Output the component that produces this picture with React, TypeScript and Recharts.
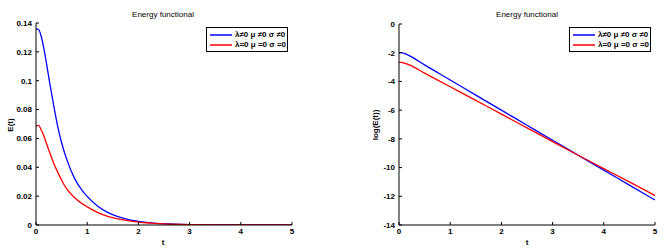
import React from 'react';
import { LineChart, Line, XAxis, YAxis } from 'recharts';

// Left panel: energy E(t)
const tLeft = [0, 0.05, 0.1, 0.15, 0.2, 0.27, 0.35, 0.42, 0.5, 0.6, 0.75, 0.9, 1.0, 1.2, 1.4, 1.6, 1.85, 2.0, 2.25, 2.5, 3.0, 3.5, 4.0, 4.5, 5.0];
const blueE = [0.136, 0.1355, 0.131, 0.123, 0.113, 0.098, 0.082, 0.069, 0.057, 0.0455, 0.0325, 0.024, 0.0198, 0.0132, 0.0088, 0.0058, 0.0034, 0.0025, 0.0015, 0.0009, 0.0003, 0.00012, 0.00004, 0.00002, 0.00001];
const redE = [0.0685, 0.069, 0.066, 0.062, 0.057, 0.05, 0.0425, 0.037, 0.031, 0.025, 0.019, 0.0148, 0.0126, 0.0088, 0.006, 0.0042, 0.0027, 0.002, 0.0013, 0.0008, 0.0003, 0.00012, 0.00005, 0.00002, 0.00001];

// Right panel: log(E(t))
const tRight = [0, 0.05, 0.1, 0.2, 0.5, 1.0, 1.5, 2.0, 2.5, 3.0, 3.5, 4.0, 4.5, 5.0];
const blueLog = [-1.99, -2.0, -2.05, -2.2, -2.85, -3.9, -4.95, -6.0, -7.05, -8.1, -9.14, -10.18, -11.22, -12.26];
const redLog = [-2.68, -2.67, -2.72, -2.85, -3.42, -4.37, -5.32, -6.28, -7.23, -8.19, -9.14, -10.07, -11.0, -11.95];

const xTicks = [0, 1, 2, 3, 4, 5];
const leftYTicks = [0, 0.02, 0.04, 0.06, 0.08, 0.1, 0.12, 0.14];
const rightYTicks = [-14, -12, -10, -8, -6, -4, -2, 0];

const seriesNames = ['λ≠0 μ ≠0 σ ≠0', 'λ=0 μ =0 σ =0'];
const seriesColors = ['#0000ff', '#ff0000'];
const titleText = 'Energy functional';

const leftData = tLeft.map((t, i) => ({ t, a: blueE[i], b: redE[i] }));
const rightData = tRight.map((t, i) => ({ t, a: blueLog[i], b: redLog[i] }));

const FONT = '"Liberation Sans", Arial, sans-serif';
const tickStyle = { fontSize: 8, fontWeight: 700, fill: '#000', fontFamily: FONT };

const LegendBox = ({ left, top }: { left: number; top: number }) => (
  <div
    style={{
      position: 'absolute',
      left,
      top,
      border: '1px solid #000',
      background: '#fff',
      width: 82,
      height: 25,
      boxSizing: 'border-box',
      padding: '2px 0 0 3px',
      fontFamily: FONT,
      fontSize: 8,
      fontWeight: 700,
      lineHeight: '10px',
    }}
  >
    {seriesNames.map((name, i) => (
      <div key={i} style={{ display: 'flex', alignItems: 'center', height: 10, whiteSpace: 'nowrap' }}>
        <svg width={22} height={4} style={{ marginRight: 3, display: 'block' }}>
          <line x1={0} y1={2} x2={22} y2={2} stroke={seriesColors[i]} strokeWidth={1.5} />
        </svg>
        <span>{name}</span>
      </div>
    ))}
  </div>
);

const textAbs = (left: number, top: number, content: string, rotate = false, bold = true) => (
  <div
    style={{
      position: 'absolute',
      left,
      top,
      transform: rotate ? 'translate(-50%, -50%) rotate(-90deg)' : 'translate(-50%, -50%)',
      fontFamily: FONT,
      fontSize: 8,
      fontWeight: bold ? 700 : 400,
      whiteSpace: 'nowrap',
      color: '#000',
    }}
  >
    {content}
  </div>
);

const Panel = ({ data, domain, ticks, marginLeft, marginRight, top, tickFmt }: any) => (
  <LineChart
    width={332}
    height={250}
    data={data}
    margin={{ top, right: marginRight, bottom: 5, left: marginLeft }}
  >
    <XAxis
      dataKey="t"
      type="number"
      domain={[0, 5]}
      ticks={xTicks}
      height={20}
      axisLine={{ stroke: '#000', strokeWidth: 1 }}
      tickLine={{ stroke: '#000' }}
      tickSize={-3}
      tickMargin={6}
      tick={tickStyle}
      interval={0}
    />
    <YAxis
      type="number"
      domain={domain}
      ticks={ticks}
      width={30}
      axisLine={{ stroke: '#000', strokeWidth: 1 }}
      tickLine={{ stroke: '#000' }}
      tickSize={-3}
      tickMargin={7}
      tick={tickStyle}
      tickFormatter={tickFmt}
      interval={0}
      allowDataOverflow
    />
    <Line type="monotone" dataKey="a" name={seriesNames[0]} stroke={seriesColors[0]} strokeWidth={1.3} dot={false} isAnimationActive={false} />
    <Line type="monotone" dataKey="b" name={seriesNames[1]} stroke={seriesColors[1]} strokeWidth={1.3} dot={false} isAnimationActive={false} />
  </LineChart>
);

export default function App() {
  return (
    <div style={{ position: 'absolute', left: 0, top: 0, width: 664, height: 250, background: '#fff', overflow: 'hidden' }}>
      <div style={{ position: 'absolute', left: 0, top: 0 }}>
        <Panel
          data={leftData}
          domain={[0, 0.14]}
          ticks={leftYTicks}
          marginLeft={6}
          marginRight={40}
          top={23}
          tickFmt={(v: number) => String(Number(v.toFixed(2)))}
        />
      </div>
      <div style={{ position: 'absolute', left: 332, top: 0 }}>
        <Panel
          data={rightData}
          domain={[-14, 0]}
          ticks={rightYTicks}
          marginLeft={37}
          marginRight={9}
          top={24}
          tickFmt={(v: number) => String(v)}
        />
      </div>
      <LegendBox left={206} top={27} />
      <LegendBox left={569} top={27} />
      {textAbs(163, 14, titleText, false, false)}
      {textAbs(527, 14, titleText, false, false)}
      {textAbs(163, 242, 't')}
      {textAbs(527, 242, 't')}
      {textAbs(10, 125, 'E(t)', true)}
      {textAbs(375, 125, 'log(E(t))', true)}
    </div>
  );
}
